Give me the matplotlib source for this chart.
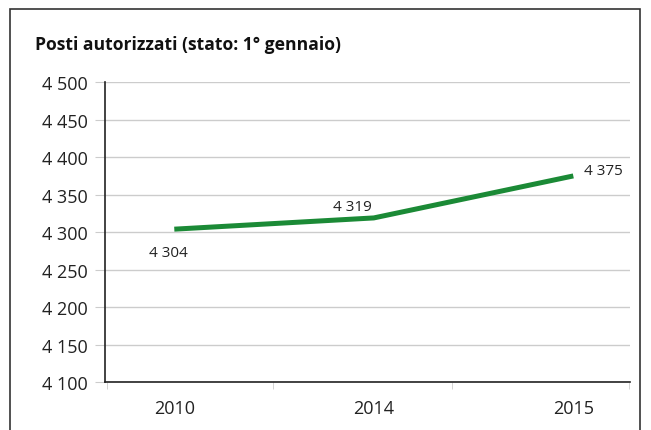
import matplotlib.pyplot as plt
from matplotlib.patches import Rectangle
from matplotlib.ticker import FuncFormatter

plt.rcParams['font.family'] = ['Open Sans', 'DejaVu Sans']

years = ['2010', '2014', '2015']
posti = [4304, 4319, 4375]
y_ticks = [4100, 4150, 4200, 4250, 4300, 4350, 4400, 4450, 4500]


def fmt(v, pos=None):
    return f'{int(v):,}'.replace(',', ' ')


fig = plt.figure(figsize=(6.51, 4.31), dpi=100)
ax = fig.add_axes([0.162, 0.111, 0.806, 0.696])

x = list(range(len(years)))
ax.plot(x, posti, color='#1b8a36', linewidth=3.6, solid_capstyle='butt')

# data labels
offsets = [(-4.5, -17), (-15.5, 8), (22, 4)]
for xi, v, off in zip(x, posti, offsets):
    ax.annotate(fmt(v), (xi, v), xytext=off, textcoords='offset points',
                ha='center', va='center', fontsize=11, color='#222222')

ax.set_xlim(-0.345, 2.285)
ax.set_ylim(4100, 4500)
ax.set_yticks(y_ticks)
ax.yaxis.set_major_formatter(FuncFormatter(fmt))
ax.set_xticks(x)
ax.set_xticklabels(years)
ax.set_xticks([-0.335, 0.495, 1.39, 2.28], minor=True)
ax.tick_params(axis='x', which='major', length=0, pad=12, labelsize=13, colors='#222222')
ax.tick_params(axis='x', which='minor', length=5, color='#cccccc')
ax.tick_params(axis='y', length=7, pad=6, labelsize=13, color='#cccccc', labelcolor='#222222')

ax.grid(axis='y', color='#cccccc', linewidth=1)
ax.set_axisbelow(True)
for side in ['top', 'right']:
    ax.spines[side].set_visible(False)
ax.spines['left'].set_color('#222222')
ax.spines['bottom'].set_color('#222222')
ax.spines['left'].set_linewidth(1.2)
ax.spines['bottom'].set_linewidth(1.2)

fig.text(35 / 651, 1 - 45 / 431, 'Posti autorizzati (stato: 1° gennaio)',
         fontsize=12.6, fontweight='bold', color='#111111', va='center')

# outer frame
fig.patches.append(Rectangle((10 / 651, -0.1), 630 / 651, 1.1 - 10 / 431,
                             transform=fig.transFigure, fill=False,
                             edgecolor='#333333', linewidth=1.2))

fig.savefig('out.png', dpi=100)
